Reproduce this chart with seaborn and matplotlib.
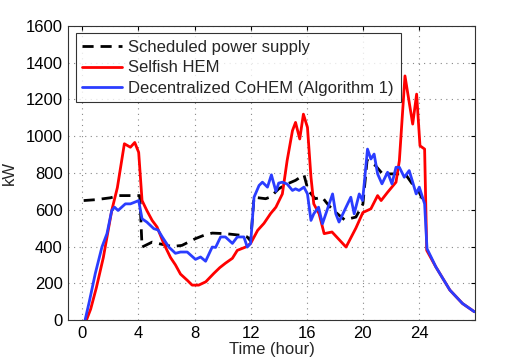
import matplotlib
matplotlib.use("Agg")
import matplotlib.pyplot as plt
import seaborn as sns

# values (time in hours, power in kW)
sched_t = [0.1, 1.0, 2.0, 2.6, 3.67, 4.1, 4.26, 4.98, 5.5, 6.4, 7.1, 8.07, 8.67,
           9.26, 10.2, 11.3, 11.76, 12.0, 12.24, 13.07, 13.43, 14.0, 14.6, 15.2,
           15.8, 16.1, 16.6, 17.1, 17.6, 18.0, 18.7, 19.5, 20.0, 20.3, 20.9, 21.4,
           22.0, 22.8, 23.1, 23.6, 23.9, 24.4]
sched_kw = [650, 655, 665, 677, 677, 677, 397, 424, 415, 400, 406, 443, 461,
            473, 470, 461, 452, 430, 668, 660, 670, 714, 740, 760,
            790, 705, 660, 668, 620, 590, 545, 560, 630, 870, 840, 795,
            795, 795, 786, 732, 714, 632]

selfish_t = [0.3, 0.6, 1.0, 1.5, 2.1, 2.5, 3.0, 3.43, 3.74, 4.02, 4.26, 4.6, 4.98,
             5.33, 5.8, 6.29, 6.64, 7.0, 7.5, 7.83, 8.3, 8.8, 9.38, 9.8, 10.2,
             10.7, 11.05, 11.64, 12.0, 12.5, 12.95, 13.43, 13.8, 14.26, 14.6,
             14.98, 15.2, 15.5, 15.76, 16.05, 16.3, 16.5, 16.88, 17.24, 17.8,
             18.8, 19.5, 20.0, 20.57, 21.05, 21.3, 21.76, 22.36, 22.6, 23.0,
             23.55, 23.83, 24.07, 24.4, 24.55, 25.2, 26.2, 27.1, 27.95]
selfish_kw = [0, 60, 175, 340, 596, 720, 959, 940, 966, 912, 650, 596, 542,
              506, 417, 340, 300, 250, 215, 190, 190, 208, 254, 285, 309,
              336, 379, 397, 417, 488, 526, 580, 614, 686, 867,
              1030, 1075, 985, 1120, 1048, 777, 632, 578, 470, 479,
              397, 500, 585, 605, 677, 650, 695, 750, 867, 1328,
              1066, 1229, 948, 930, 379, 289, 163, 90, 45]

cohem_t = [0.2, 0.5, 0.93, 1.4, 1.76, 2.1, 2.3, 2.55, 3.07, 3.43, 3.7, 4.02, 4.26,
           4.6, 5.1, 5.4, 5.7, 6.17, 6.64, 7.0, 7.48, 8.07, 8.43, 8.79, 9.26,
           9.5, 9.86, 10.2, 10.7, 11.05, 11.52, 11.76, 12.0, 12.24, 12.6, 12.84,
           13.2, 13.48, 13.8, 14.0, 14.26, 14.6, 14.98, 15.2, 15.45, 15.8, 16.05,
           16.3, 16.5, 16.84, 17.12, 17.48, 17.84, 18.07, 18.3, 18.8, 19.14,
           19.38, 19.74, 19.98, 20.33, 20.57, 20.8, 21.05, 21.36, 21.76, 22.07,
           22.36, 22.6, 22.95, 23.3, 23.55, 23.8, 24.02, 24.4, 24.57, 24.86,
           25.2, 26.2, 27.1, 27.95]
cohem_kw = [0, 100, 254, 397, 470, 596, 614, 596, 632, 632, 640, 650, 551,
            533, 497, 490, 452, 397, 363, 370, 370, 330, 343, 320, 397,
            395, 452, 452, 417, 452, 452, 397, 417, 668, 732, 750,
            723, 790, 700, 745, 750, 740, 705, 714, 705, 723, 686,
            542, 578, 614, 524, 605, 686, 578, 533, 614, 668,
            578, 686, 650, 930, 876, 903, 795, 741, 804, 741,
            831, 831, 777, 813, 750, 686, 723, 632, 388, 343,
            289, 163, 90, 45]

x_ticks = [0, 4, 8, 12, 16, 20, 24]
y_ticks = [0, 200, 400, 600, 800, 1000, 1200, 1400, 1600]

sns.set_style("white")
plt.rcParams['font.family'] = ['Liberation Sans', 'DejaVu Sans']

fig = plt.figure(figsize=(5.25, 3.6), dpi=100)
ax = fig.add_axes([0.13, 0.111, 0.775, 0.817])

sns.lineplot(x=sched_t, y=sched_kw, ax=ax, color="black", lw=2,
             label="Scheduled power supply")
ax.lines[-1].set_dashes([4, 2.5])
sns.lineplot(x=selfish_t, y=selfish_kw, ax=ax, color="#ff0000", lw=2,
             label="Selfish HEM")
sns.lineplot(x=cohem_t, y=cohem_kw, ax=ax, color="#2b3dff", lw=2,
             label="Decentralized CoHEM (Algorithm 1)")

ax.set_xlim(-1, 28)
ax.set_ylim(0, 1600)
ax.set_xticks(x_ticks)
ax.set_yticks(y_ticks)
ax.tick_params(direction="in", length=3, labelsize=12, top=True, right=True,
               labeltop=False, labelright=False, colors="black", pad=4)
ax.grid(True, linestyle=(0, (1, 4)), color="#888888", lw=0.8)
for s in ax.spines.values():
    s.set_color("#333333")
    s.set_linewidth(0.8)
ax.set_xlabel("Time (hour)", fontsize=12, labelpad=1)
ax.set_ylabel("kW", fontsize=12, labelpad=6)

leg = ax.legend(loc="upper left", fontsize=12, frameon=True, fancybox=False,
                edgecolor="black", handlelength=2.4, borderpad=0.4,
                labelspacing=0.32, handletextpad=0.35, borderaxespad=0.45)
leg.get_frame().set_linewidth(0.8)

fig.savefig("out.png", dpi=100)
